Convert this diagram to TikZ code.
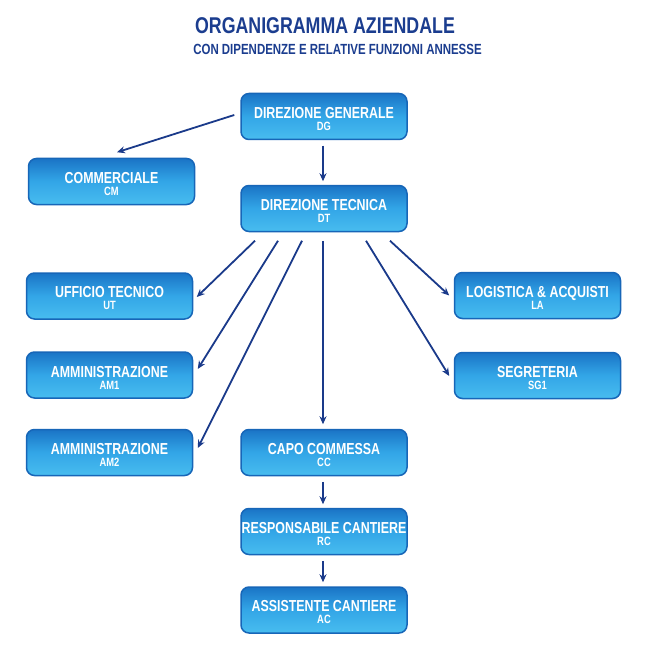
\documentclass[tikz,border=0pt]{standalone}
\usepackage{fontspec}
\setmainfont{Liberation Sans}[FakeStretch=0.78]
\usetikzlibrary{arrows.meta}
\definecolor{navy}{HTML}{1B3D8F}
\definecolor{arrowblue}{HTML}{1A3A8A}
\definecolor{boxtop}{HTML}{1A74C6}
\definecolor{boxmid}{HTML}{33A6E7}
\definecolor{boxbot}{HTML}{48BDEF}
\definecolor{boxedge}{HTML}{1766B8}
\newcommand{\boxtext}[2]{\fontsize{15.9}{13}\selectfont\rule{0pt}{16pt}#1\\\fontsize{12}{13}\selectfont #2}
\begin{document}
\begin{tikzpicture}[x=1pt,y=-1pt,
  unitbox/.style={rectangle, rounded corners=8pt, minimum width=166pt, minimum height=46pt,
    draw=boxedge, line width=1.5pt, top color=boxtop, bottom color=boxbot, middle color=boxmid,
    text=white, font=\bfseries, align=center, inner sep=0pt},
  arr/.style={draw=arrowblue, line width=1.8pt, -{Stealth[length=8pt,width=7pt]}},
  titletext/.style={text=navy, font=\bfseries, inner sep=0pt, anchor=base}]
\useasboundingbox (0,0) rectangle (647,647);
\fill[white] (0,0) rectangle (647,647);

\node[titletext] (title) at (325,33.5) {\fontsize{22.8}{24}\selectfont ORGANIGRAMMA AZIENDALE};
\node[titletext] (subtitle) at (337.5,55) {\fontsize{14.7}{16}\selectfont CON DIPENDENZE E RELATIVE FUNZIONI ANNESSE};

\node[unitbox] (DG)  at (324,116.5)   {\boxtext{DIREZIONE GENERALE}{DG}};
\node[unitbox] (CM)  at (111.5,181.5) {\boxtext{COMMERCIALE}{CM}};
\node[unitbox] (DT)  at (324,208.5)   {\boxtext{DIREZIONE TECNICA}{DT}};
\node[unitbox] (UT)  at (109.5,296)   {\boxtext{UFFICIO TECNICO}{UT}};
\node[unitbox] (AM1) at (109.5,375)   {\boxtext{AMMINISTRAZIONE}{AM1}};
\node[unitbox] (AM2) at (109.5,452.5) {\boxtext{AMMINISTRAZIONE}{AM2}};
\node[unitbox] (LA)  at (537.5,295.5) {\boxtext{LOGISTICA \& ACQUISTI}{LA}};
\node[unitbox] (SG1) at (537.5,375.5) {\boxtext{SEGRETERIA}{SG1}};
\node[unitbox] (CC)  at (324,452.5)   {\boxtext{CAPO COMMESSA}{CC}};
\node[unitbox] (RC)  at (324,531.5)   {\boxtext{RESPONSABILE CANTIERE}{RC}};
\node[unitbox] (AC)  at (324,610)     {\boxtext{ASSISTENTE CANTIERE}{AC}};

\draw[arr] ([xshift=-6pt,yshift=1.5pt]DG.west) -- ([xshift=5.5pt,yshift=5.5pt]CM.north);
\draw[arr] ([xshift=-1pt,yshift=-5.5pt]DG.south) -- ([xshift=-1pt,yshift=3.5pt]DT.north);
\draw[arr] ([xshift=-69pt,yshift=-8.5pt]DT.south) -- ([xshift=3.5pt,yshift=-1pt]UT.east);
\draw[arr] ([xshift=-46pt,yshift=-8.5pt]DT.south) -- ([xshift=4.5pt,yshift=6pt]AM1.east);
\draw[arr] ([xshift=-22pt,yshift=-8.5pt]DT.south) -- ([xshift=4.5pt,yshift=4.5pt]AM2.east);
\draw[arr] ([xshift=-1pt,yshift=-8.5pt]DT.south) -- ([xshift=-1pt,yshift=4.5pt]CC.north);
\draw[arr] ([xshift=66pt,yshift=-8.5pt]DT.south) -- ([xshift=-4.5pt]LA.west);
\draw[arr] ([xshift=42pt,yshift=-8.5pt]DT.south) -- ([xshift=-4.5pt,yshift=-0.5pt]SG1.west);
\draw[arr] ([xshift=-1pt,yshift=-5.5pt]CC.south) -- ([xshift=-1pt,yshift=3.5pt]RC.north);
\draw[arr] ([xshift=-1pt,yshift=-5.5pt]RC.south) -- ([xshift=-1pt,yshift=4pt]AC.north);
\end{tikzpicture}
\end{document}
